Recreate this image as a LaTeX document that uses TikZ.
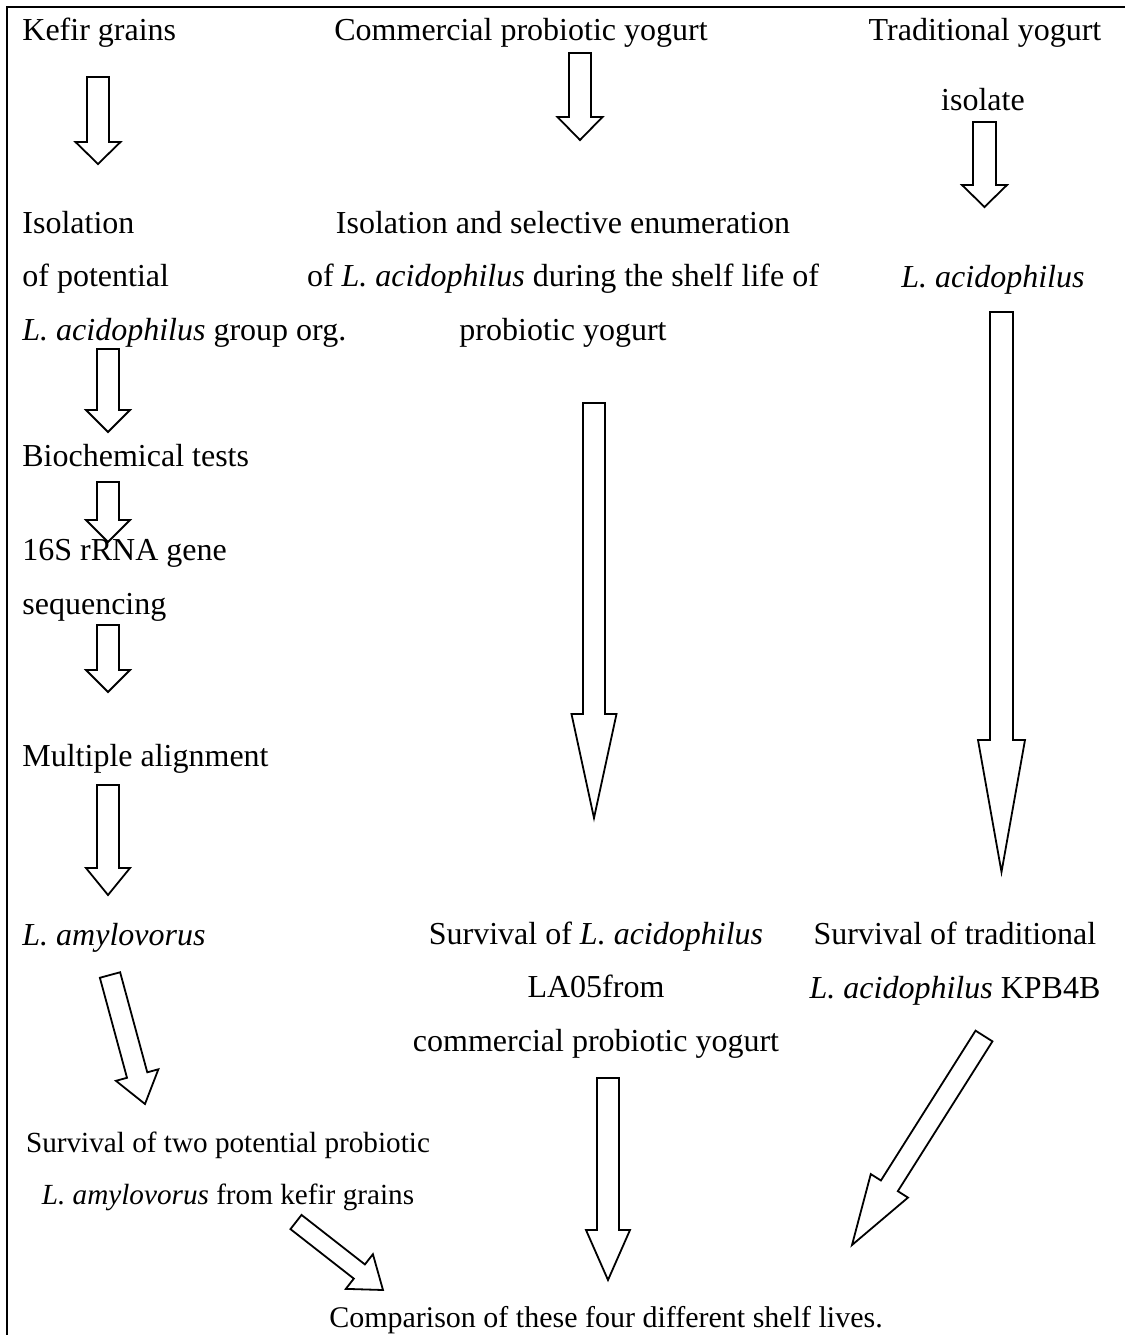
\documentclass[tikz,border=0pt]{standalone}
\usepackage{fontspec}
\setmainfont{Liberation Serif}
\usetikzlibrary{calc}
\tikzset{
  % plain text of the flow chart
  flowtext/.style = {
    inner sep = 0,
    font = \fontsize{16}{26.75}\selectfont
  },
  % multi line nodes sit on the baseline of their last line
  lefttext/.style = {
    flowtext,
    align = left,
    anchor = base west
  },
  midtext/.style = {
    flowtext,
    align = center,
    anchor = base
  },
  smalltext/.style = {
    font = \fontsize{14.6}{26}\selectfont
  },
  % hollow block arrow
  blockarr/.style = {
    draw = black,
    line width = 0.9pt,
    line join = miter,
    fill = white
  },
  frame/.style = {
    draw = black,
    line width = 1.2pt
  }
}
% #1 half shaft width, #2 half head width, #3 head length, #4 from, #5 to
\newcommand\blockarrow[5]{%
  \coordinate (ah) at ($(#5)!#3!(#4)$);
  \draw[blockarr] ($(#4)!#1!90:(#5)$)
    -- ($(ah)!#1!90:(#5)$)
    -- ($(ah)!#2!90:(#5)$)
    -- (#5)
    -- ($(ah)!#2!-90:(#5)$)
    -- ($(ah)!#1!-90:(#5)$)
    -- ($(#4)!#1!-90:(#5)$)
    -- cycle;
}
\begin{document}
\begin{tikzpicture}[x=0.5pt, y=-0.5pt]
    \useasboundingbox (0,0) rectangle (1125,1335);
    \draw[frame] (7,1335) -- (7,7) -- (1125,7);

    % sources
    \node[lefttext] (kefir) at (22,40) {Kefir grains};
    \node[midtext] (commercial) at (521,40) {Commercial probiotic yogurt};
    \node[midtext] (traditional) at (985,40) {Traditional yogurt};
    \node[midtext] (isolate) at (983,110) {isolate};

    % kefir column
    \node[lefttext] (kefir-isolation) at (22,340)
      {Isolation\\of potential\\\textit{L. acidophilus} group org.};
    \node[lefttext] (biochem) at (22,466) {Biochemical tests};
    \node[lefttext] (rrna) at (22,614) {16S rRNA gene\\sequencing};
    \node[lefttext] (alignment) at (22,766) {Multiple alignment};
    \node[lefttext] (amylovorus) at (22,945) {\textit{L. amylovorus}};
    \node[midtext, smalltext] (kefir-survival) at (228,1204)
      {Survival of two potential probiotic\\\textit{L. amylovorus} from kefir grains};

    % commercial column
    \node[midtext] (enumeration) at (563,340)
      {Isolation and selective enumeration\\of \textit{L. acidophilus} during the shelf life of\\probiotic yogurt};
    \node[midtext] (comm-survival) at (596,1051)
      {Survival of \textit{L. acidophilus}\\LA05from\\commercial probiotic yogurt};

    % traditional column
    \node[midtext] (trad-acidophilus) at (993,287) {\textit{L. acidophilus}};
    \node[midtext] (trad-survival) at (955,998)
      {Survival of traditional\\\textit{L. acidophilus} KPB4B};

    \node[midtext, font=\fontsize{15}{26}\selectfont] (comparison) at (606,1327)
      {Comparison of these four different shelf lives.};

    % arrow ends
    \coordinate (kefir-a) at (98,77);
    \coordinate (kefir-b) at (98,164);
    \coordinate (comm-a) at (580,53);
    \coordinate (comm-b) at (580,140);
    \coordinate (isolate-a) at (984.5,122);
    \coordinate (isolate-b) at (984.5,207);
    \coordinate (org-a) at (108,349);
    \coordinate (org-b) at (108,432);
    \coordinate (biochem-a) at (108,482);
    \coordinate (biochem-b) at (108,542);
    \coordinate (seq-a) at (108,625);
    \coordinate (seq-b) at (108,692);
    \coordinate (align-a) at (108,785);
    \coordinate (align-b) at (108,895);
    \coordinate (amylo-a) at (110,975);
    \coordinate (amylo-b) at (145,1104);
    \coordinate (enum-a) at (594,403);
    \coordinate (enum-b) at (594,818);
    \coordinate (trad-a) at (1001.5,312);
    \coordinate (trad-b) at (1001.5,872);
    \coordinate (commsurv-a) at (608,1078);
    \coordinate (commsurv-b) at (608,1280);
    \coordinate (tradsurv-a) at (984,1036);
    \coordinate (tradsurv-b) at (852,1245);
    \coordinate (kefirsurv-a) at (296,1222);
    \coordinate (kefirsurv-b) at (383,1290);

    \blockarrow{5.5pt}{11.25pt}{11pt}{kefir-a}{kefir-b}
    \blockarrow{5.5pt}{11.25pt}{11.5pt}{comm-a}{comm-b}
    \blockarrow{5.75pt}{11.25pt}{11pt}{isolate-a}{isolate-b}
    \blockarrow{5.5pt}{11pt}{11pt}{org-a}{org-b}
    \blockarrow{5.5pt}{11pt}{11pt}{biochem-a}{biochem-b}
    \blockarrow{5.5pt}{11pt}{11pt}{seq-a}{seq-b}
    \blockarrow{5.5pt}{11pt}{13.5pt}{align-a}{align-b}
    \blockarrow{5.25pt}{11pt}{15pt}{amylo-a}{amylo-b}
    \blockarrow{5.5pt}{11.25pt}{52pt}{enum-a}{enum-b}
    \blockarrow{5.75pt}{11.75pt}{66pt}{trad-a}{trad-b}
    \blockarrow{5.5pt}{11pt}{25pt}{commsurv-a}{commsurv-b}
    \blockarrow{5pt}{11pt}{35pt}{tradsurv-a}{tradsurv-b}
    \blockarrow{4.5pt}{11pt}{15pt}{kefirsurv-a}{kefirsurv-b}
\end{tikzpicture}
\end{document}
